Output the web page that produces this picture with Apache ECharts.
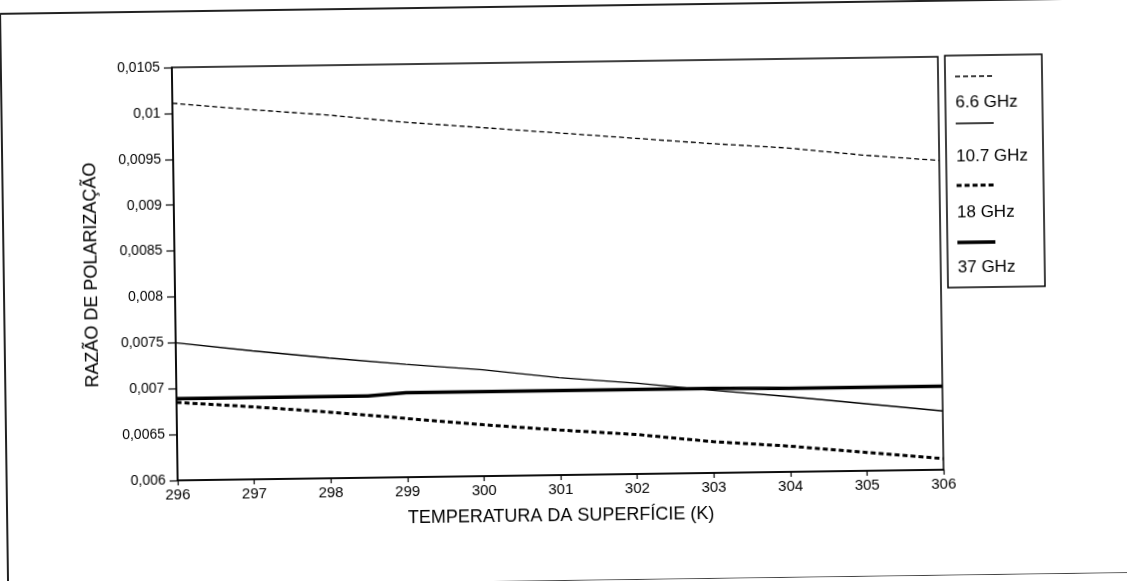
<!DOCTYPE html>
<html>
<head>
<meta charset="utf-8">
<script src="https://cdn.jsdelivr.net/npm/echarts@6/dist/echarts.min.js"></script>
<style>
  html, body { margin: 0; padding: 0; background: #fff; overflow: hidden; }
  #chart { width: 1127px; height: 581px; transform: rotate(-0.8deg); transform-origin: 563px 290px; }
</style>
</head>
<body>
<div id="chart"></div>
<script>
// ---- data ----
const temps = [296, 297, 298, 299, 300, 301, 302, 303, 304, 305, 306];
const ghz66  = [0.01011, 0.01003, 0.00996, 0.00987, 0.00980, 0.00973, 0.00966, 0.00959, 0.00953, 0.00944, 0.00937];
const ghz107 = [0.00750, 0.00740, 0.00731, 0.00723, 0.00716, 0.00706, 0.00699, 0.00690, 0.00682, 0.00673, 0.00664];
const ghz18  = [0.00685, 0.00679, 0.00672, 0.00664, 0.00656, 0.00649, 0.00643, 0.00634, 0.00628, 0.00620, 0.00612];
const temps37 = [296, 297, 298, 298.5, 299, 300, 301, 302, 303, 304, 305, 306];
const ghz37  = [0.00689, 0.00689, 0.00689, 0.00689, 0.00692, 0.00692, 0.00692, 0.00692, 0.00692, 0.00691, 0.00691, 0.00691];
const seriesNames = ['6.6 GHz', '10.7 GHz', '18 GHz', '37 GHz'];
const yTickLabels = ['0,006', '0,0065', '0,007', '0,0075', '0,008', '0,0085', '0,009', '0,0095', '0,01', '0,0105'];
const xTickLabels = ['296', '297', '298', '299', '300', '301', '302', '303', '304', '305', '306'];
const xTitle = 'TEMPERATURA DA SUPERFÍCIE (K)';
const yTitle = 'RAZÃO DE POLARIZAÇÃO';

// ---- styles ----
const FONT = '"Liberation Sans", Arial, sans-serif';
const lineStyles = [
  { width: 1.3, type: [5, 3] },
  { width: 1.3, type: 'solid' },
  { width: 3, type: [5, 3] },
  { width: 3.5, type: 'solid' }
];

const pair = (xs, ys) => xs.map((x, i) => [x, ys[i]]);
const dataSets = [pair(temps, ghz66), pair(temps, ghz107), pair(temps, ghz18), pair(temps37, ghz37)];

const series = seriesNames.map((n, i) => ({
  name: n,
  type: 'line',
  data: dataSets[i],
  showSymbol: false,
  symbol: 'none',
  lineStyle: { color: '#000', width: lineStyles[i].width, type: lineStyles[i].type },
  silent: true,
  animation: false
}));

// custom legend (sample line above the label)
const legendGraphics = [{
  type: 'rect',
  shape: { x: 948, y: 61, width: 97, height: 232 },
  style: { fill: '#fff', stroke: '#000', lineWidth: 1.5 }
}];
const lineYs = [82, 129, 191, 248];
const textYs = [108, 162, 218, 273];
seriesNames.forEach((n, i) => {
  legendGraphics.push({
    type: 'line',
    shape: { x1: 958, y1: lineYs[i], x2: 996, y2: lineYs[i] },
    style: { stroke: '#000', lineWidth: lineStyles[i].width, lineDash: Array.isArray(lineStyles[i].type) ? lineStyles[i].type : null }
  });
  legendGraphics.push({
    type: 'text',
    x: 958, y: textYs[i],
    style: { text: n, fill: '#000', font: '17px ' + FONT, textVerticalAlign: 'middle', textAlign: 'left' }
  });
});
// outer frame of the scanned figure
const frameGraphics = [
  { type: 'line', shape: { x1: 4, y1: 6, x2: 1140, y2: 6 }, style: { stroke: '#222', lineWidth: 2 } },
  { type: 'line', shape: { x1: 4, y1: 6, x2: 4, y2: 600 }, style: { stroke: '#222', lineWidth: 2 } },
  { type: 'line', shape: { x1: 478, y1: 581, x2: 1140, y2: 581 }, style: { stroke: '#444', lineWidth: 2 } }
];

const chart = echarts.init(document.getElementById('chart'), null, { renderer: 'canvas' });
chart.setOption({
  backgroundColor: '#fff',
  animation: false,
  grid: {
    left: 175, right: 186, top: 62, bottom: 106,
    show: true, borderColor: '#000', borderWidth: 1.5, backgroundColor: 'transparent'
  },
  xAxis: {
    type: 'value', min: 296, max: 306, interval: 1,
    name: xTitle, nameLocation: 'middle', nameGap: 32,
    nameTextStyle: { color: '#000', fontSize: 18, fontFamily: FONT },
    axisLine: { show: true, onZero: false, lineStyle: { color: '#000', width: 1.5 } },
    axisTick: { show: true, inside: false, length: 5, lineStyle: { color: '#000', width: 1.2 } },
    axisLabel: {
      color: '#000', fontSize: 15, fontFamily: FONT, margin: 7,
      formatter: v => xTickLabels[Math.round(v - 296)]
    },
    splitLine: { show: false }
  },
  yAxis: {
    type: 'value', min: 0.006, max: 0.0105, interval: 0.0005,
    name: yTitle, nameLocation: 'middle', nameGap: 74, nameRotate: 90,
    nameTextStyle: { color: '#000', fontSize: 18, fontFamily: FONT },
    axisLine: { show: true, onZero: false, lineStyle: { color: '#000', width: 1.5 } },
    axisTick: { show: true, inside: false, length: 8, lineStyle: { color: '#000', width: 1.2 } },
    axisLabel: {
      color: '#000', fontSize: 14, fontFamily: FONT, margin: 12,
      formatter: v => yTickLabels[Math.round((v - 0.006) / 0.0005)]
    },
    splitLine: { show: false }
  },
  graphic: frameGraphics.concat(legendGraphics),
  series: series
});
</script>
</body>
</html>
